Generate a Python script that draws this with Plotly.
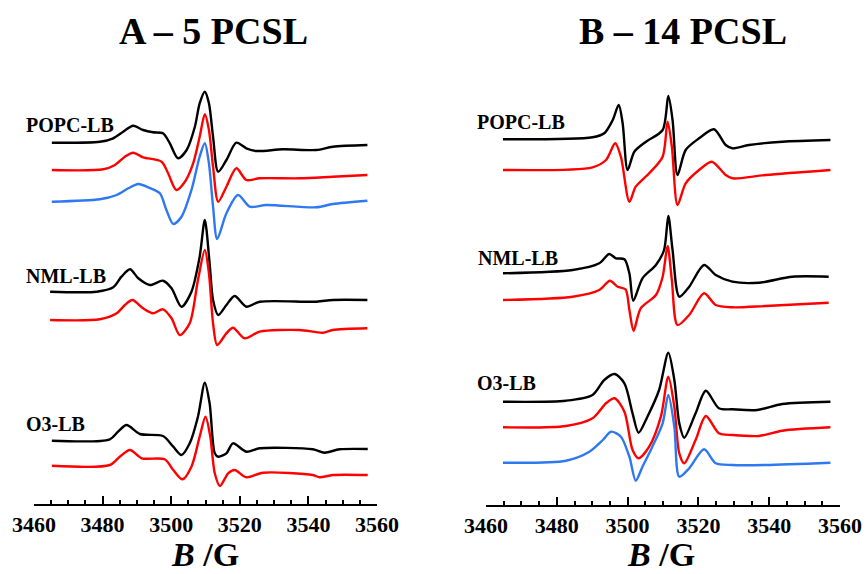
import plotly.graph_objects as go

# ---------------- data (field B in G, signal amplitude in a.u. relative to each baseline) -------------
# Panel A - 5 PCSL
A_popc_k_B = [3465.2,3479.2,3483.1,3486.0,3488.9,3491.8,3494.7,3497.6,3499.6,3502.0,3504.5,3506.9,3508.3,3509.8,3511.0,3512.2,3513.7,3516.1,3519.0,3521.9,3524.8,3532.6,3542.3,3547.1,3557.2]
A_popc_k_S = [0,1,4.4,11,17,12.7,10.4,9.4,-0.6,-15.6,-7.3,16,39.4,51,39.4,6,-29,-17.3,0,-5.6,-8.3,-6.6,-7.3,-4,-2.3]
A_popc_r_B = [3465.2,3480.2,3483.6,3486.5,3488.9,3491.8,3497.2,3499.1,3501.5,3504.0,3506.4,3508.3,3509.8,3511.0,3512.2,3513.7,3516.1,3519.0,3521.9,3525.8,3537.4,3547.1,3557.2]
A_popc_r_S = [0,0.7,5,13.3,17.3,12.7,8.3,-3.3,-20,-11.7,6.7,33.3,55.7,40,3.3,-31.7,-16.7,1.7,-10,-8.3,-8.3,-6.7,-5]
A_popc_b_B = [3465.2,3479.2,3484.1,3487.5,3490.4,3493.3,3496.7,3498.6,3500.6,3503.0,3505.9,3508.3,3509.8,3511.0,3512.2,3513.4,3516.1,3519.5,3522.9,3527.7,3542.3,3547.1,3557.2]
A_popc_b_S = [0,2.4,6.7,13.4,17.7,14.4,8.4,-8.3,-22.3,-15,11.7,45,58.4,38.4,-5,-37.3,-11.6,6.7,-5,-3.3,-5.6,-2.3,1]
A_nml_k_B = [3464.7,3478.3,3483.1,3485.5,3488.0,3490.4,3493.8,3497.6,3500.1,3503.0,3505.9,3508.3,3509.8,3511.2,3512.2,3513.7,3516.1,3518.5,3521.9,3525.8,3542.3,3547.1,3557.2]
A_nml_k_S = [0,0,4.4,15,22.4,13.4,6.7,11,3.4,-15,0,35,71.7,28.4,-8.3,-23.3,-13.3,-4.3,-15,-10,-10,-8.3,-8.3]
A_nml_r_B = [3464.7,3479.2,3484.1,3486.5,3488.7,3491.8,3494.7,3497.6,3500.1,3502.5,3505.4,3507.8,3509.8,3511.0,3512.2,3513.4,3516.1,3518.0,3521.4,3525.8,3537.4,3544.2,3547.1,3557.2]
A_nml_r_S = [0,0.7,6.7,15,20,11.7,6.7,10.7,1.7,-15,-3.3,40,70,46.7,-3.3,-25,-13.3,-7.7,-18.3,-11.7,-10,-12.7,-10,-8.3]
A_o3_k_B = [3465.2,3482.1,3484.5,3487.0,3490.9,3497.6,3500.6,3503.0,3505.4,3507.8,3509.8,3511.2,3512.7,3513.7,3516.1,3518.0,3521.9,3525.8,3541.3,3544.7,3549.1,3557.3]
A_o3_k_S = [0,1.4,9,15.7,6.7,4.7,-6,-14.3,-2.6,24,58,37.4,-12.6,-16,-12.6,-2.6,-11,-7.6,-8.6,-12,-8.6,-8.3]
A_o3_r_B = [3465.2,3482.1,3485.0,3488.0,3491.4,3498.1,3500.6,3503.3,3505.9,3508.3,3510.0,3511.4,3512.7,3514.2,3516.6,3518.5,3521.9,3526.8,3541.3,3543.3,3547.1,3557.3]
A_o3_r_S = [0,0.7,9,15.7,7.4,6.4,-4.3,-13.6,-1,29,49,29,-7.6,-20.3,-7.6,-4.3,-11.6,-7,-9.3,-11.6,-9.3,-9.3]

# Panel B - 14 PCSL
B_popc_k_B = [3464.8,3490.1,3493.4,3495.8,3497.5,3498.6,3500.0,3501.9,3505.2,3509.9,3511.5,3512.7,3514.1,3516.4,3520.2,3524.4,3527.7,3529.6,3534.3,3543.7,3557.3]
B_popc_k_S = [0,2,6,19.3,34.3,16,-30.7,-12.4,-2.4,9.3,43.3,19.3,-35.7,-10.7,1,10,-5.7,-9,-5.7,-2.4,-0.7]
B_popc_r_B = [3464.8,3490.1,3493.9,3496.5,3498.1,3500.5,3502.3,3506.1,3509.9,3511.3,3512.5,3514.1,3516.4,3520.2,3523.8,3527.7,3529.6,3539.0,3557.3]
B_popc_r_S = [0,2.7,10,26.7,13.3,-31.7,-16.7,-3.3,13.3,48.3,23.3,-35,-13.3,0,8.3,-5,-8.3,-5,0]
B_nml_k_B = [3464.8,3484.5,3492.0,3494.8,3496.7,3499.1,3500.5,3501.6,3504.2,3508.0,3510.3,3511.5,3512.7,3514.6,3517.4,3521.6,3524.9,3529.6,3537.1,3546.5,3556.8]
B_nml_k_S = [0,3.3,10,19.3,15,14,0,-27.4,-5,8.3,23.3,57.3,23.3,-23.4,-13.4,8.3,-1.7,-8.4,-9.4,-3.4,-3.4]
B_nml_r_B = [3464.8,3484.5,3492.0,3495.0,3497.2,3499.4,3500.5,3501.7,3503.7,3508.0,3509.9,3511.3,3512.5,3514.1,3517.4,3521.6,3524.9,3529.6,3539.0,3556.8]
B_nml_r_S = [0,3.3,10,19.3,13.3,10.7,-10,-30.7,-8.3,5,23.3,54,20,-25,-15,6.7,-5,-7.3,-6,-2.7]
B_o3_k_B = [3464.8,3482.6,3490.1,3493.4,3496.3,3499.1,3501.4,3503.1,3505.6,3508.9,3511.5,3513.2,3514.6,3516.0,3519.2,3522.1,3525.8,3529.6,3536.6,3543.7,3557.3]
B_o3_k_S = [0,1,6.7,21.7,27.7,18.4,-11.6,-31,-15,11.7,49,21.7,-21.6,-36,-11.6,11,-6.6,-7.6,-8.3,-2.3,0]
B_o3_r_B = [3464.8,3482.6,3490.1,3493.9,3496.3,3499.1,3501.4,3503.1,3506.1,3509.4,3511.5,3513.2,3514.6,3516.0,3519.2,3522.1,3525.8,3529.6,3537.1,3543.7,3557.3]
B_o3_r_S = [0,1.3,9,24,29,15.6,-22.7,-31,-19.4,10.6,50.6,20.6,-26,-36,-12.7,11.3,-6,-7.7,-8.7,-3.4,0]
B_o3_b_B = [3464.8,3482.6,3489.2,3493.0,3495.3,3498.1,3500.5,3502.3,3504.2,3507.0,3509.9,3511.5,3513.2,3514.6,3517.4,3521.6,3524.9,3529.6,3539.0,3557.3]
B_o3_b_S = [0,2,11,22.7,31,26,6,-18,-4,16,39.4,67.7,36,-14,-5.6,13.4,-0.6,-2.3,-2.3,0]

x_ticks = [3460, 3480, 3500, 3520, 3540, 3560]
sample_labels = ["POPC-LB", "NML-LB", "O3-LB"]
panel_titles = ["A \u2013 5 PCSL", "B \u2013 14 PCSL"]

# ---------------- styling / layout (separate from data) -------------
BLACK, RED, BLUE = "#000000", "#ff0000", "#2e78f0"
A_series = [(A_popc_k_B, A_popc_k_S, BLACK, 361.3), (A_popc_r_B, A_popc_r_S, RED, 334.0),
            (A_popc_b_B, A_popc_b_S, BLUE, 302.3), (A_nml_k_B, A_nml_k_S, BLACK, 212.3),
            (A_nml_r_B, A_nml_r_S, RED, 184.0), (A_o3_k_B, A_o3_k_S, BLACK, 63.3),
            (A_o3_r_B, A_o3_r_S, RED, 38.3)]
B_series = [(B_popc_k_B, B_popc_k_S, BLACK, 365.7), (B_popc_r_B, B_popc_r_S, RED, 335.0),
            (B_nml_k_B, B_nml_k_S, BLACK, 231.7), (B_nml_r_B, B_nml_r_S, RED, 205.0),
            (B_o3_k_B, B_o3_k_S, BLACK, 103.3), (B_o3_r_B, B_o3_r_S, RED, 77.7),
            (B_o3_b_B, B_o3_b_S, BLUE, 42.3)]

W, H = 867, 574
FONT = "Liberation Serif"
fig = go.Figure()
for xs, ys, col, off in A_series:
    fig.add_trace(go.Scatter(x=xs, y=[v + off for v in ys], mode="lines",
                             line=dict(color=col, width=2.4, shape="spline", smoothing=0.8),
                             xaxis="x", yaxis="y", showlegend=False, hoverinfo="skip"))
for xs, ys, col, off in B_series:
    fig.add_trace(go.Scatter(x=xs, y=[v + off for v in ys], mode="lines",
                             line=dict(color=col, width=2.4, shape="spline", smoothing=0.8),
                             xaxis="x2", yaxis="y2", showlegend=False, hoverinfo="skip"))

xcommon = dict(range=[3460, 3560], tickvals=x_ticks, ticktext=[str(t) for t in x_ticks],
               ticks="inside", ticklen=8, tickwidth=2, tickcolor="black", automargin=False,
               showline=True, linewidth=2, linecolor="black", showgrid=False, zeroline=False,
               minor=dict(dtick=5, tick0=3460, ticks="inside", ticklen=4, tickwidth=2, tickcolor="black", showgrid=False),
               tickfont=dict(family=FONT, size=22, color="black", weight="bold"), fixedrange=True)
fig.update_layout(
    width=W, height=H, margin=dict(l=0, r=0, t=0, b=0, pad=0, autoexpand=False),
    paper_bgcolor="white", plot_bgcolor="white",
    xaxis=dict(domain=[34 / W, 377 / W], anchor="y", **xcommon),
    xaxis2=dict(domain=[486 / W, 840 / W], anchor="y2", **xcommon),
    yaxis=dict(domain=[70 / H, 1], range=[0, 504], visible=False, fixedrange=True, automargin=False),
    yaxis2=dict(domain=[69 / H, 1], range=[0, 505], visible=False, fixedrange=True, automargin=False),
)

def ann(text, px, py, size, xanchor="center", yanchor="middle", bold=False):
    fig.add_annotation(text=text, xref="paper", yref="paper", x=px / W, y=1 - py / H,
                       xanchor=xanchor, yanchor=yanchor, showarrow=False, borderpad=0,
                       font=dict(family=FONT, size=size, color="black", weight="bold" if bold else "normal"))

ann(panel_titles[0], 213, 31, 38, bold=True)
ann(panel_titles[1], 683, 31, 38, bold=True)
ann("<i>B</i> /G", 205, 574, 34, yanchor="bottom", bold=True)
ann("<i>B</i> /G", 661, 574, 34, yanchor="bottom", bold=True)
for lab, px, py in zip(sample_labels, [25, 25, 25], [125, 276, 424]):
    ann(lab, px, py, 20, xanchor="left", bold=True)
for lab, px, py in zip(sample_labels, [476, 477, 476], [122, 258, 383]):
    ann(lab, px, py, 20, xanchor="left", bold=True)

fig.write_html("out.html")
